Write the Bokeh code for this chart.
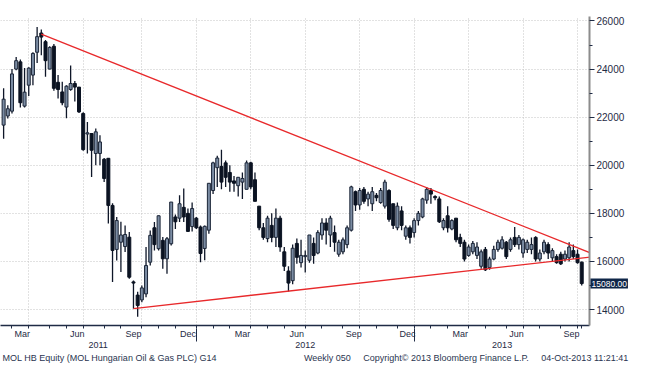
import pandas as pd
from bokeh.plotting import figure
from bokeh.models import Range1d, LinearAxis, FixedTicker, Grid, Label, ColumnDataSource, Title
from bokeh.embed import file_html
from bokeh.resources import INLINE

# ---------------- data (weekly bars, MOL HB Equity) ----------------
first_week = "2011-02-11"
opens = [21670, 22050, 22250, 24000, 24300, 22460, 23330, 23750, 24700, 25500,
         25140, 24000, 24950, 23450, 23050, 22420, 23150, 23400, 23250, 22150,
         21300, 21320, 20490, 20490, 20250, 20290, 18330, 16500, 16800, 16620,
         17010, 15150, 14600, 14400, 14650, 15970, 17400, 16530, 16875, 16110,
         16735, 17850, 17800, 18250, 18000, 17450, 17800, 17430, 16540, 17300,
         18950, 19900, 19950, 20100, 19700, 19350, 19150, 19300, 19000, 20100,
         19400, 18300, 17400, 16950, 17500, 17000, 17800, 16400, 15600, 15200,
         16750, 15950, 16200, 16050, 16750, 16350, 17100, 17600, 17100, 17200,
         16300, 16400, 16700, 17300, 18900, 18350, 19000, 18600, 18400, 18750,
         18450, 18300, 18950, 18400, 17400, 18100, 17050, 17400, 17200, 17700,
         17850, 18550, 18950, 18700, 18600, 17400, 17900, 17350, 17800, 17000,
         16800, 16250, 16400, 16250, 15800, 16500, 15750, 16100, 16500, 16550,
         16800, 16500, 17000, 16700, 16350, 16500, 16500, 17000, 16100, 16400,
         16700, 16150, 16200, 16300, 16100, 16150, 16450, 16300, 15970]
highs = [23200, 22500, 24000, 24500, 24400, 24050, 24080, 24700, 25750, 25650,
         25210, 24950, 25040, 23750, 23470, 23330, 24150, 23500, 23260, 22200,
         21800, 21320, 21530, 21250, 20300, 20290, 18420, 17850, 17650, 17500,
         17220, 15210, 14740, 15000, 16600, 17290, 17640, 17915, 17015, 17015,
         18470, 17950, 18750, 19030, 18200, 18450, 17850, 17500, 17500, 19250,
         20150, 20400, 20650, 20200, 20000, 19550, 19500, 19700, 20200, 20150,
         19700, 18300, 17600, 17900, 18000, 18200, 17900, 16600, 15800, 16700,
         16950, 16900, 16450, 17100, 17000, 17300, 17800, 17800, 17900, 17500,
         16900, 17000, 17500, 19150, 18950, 19050, 19100, 18900, 19100, 18850,
         19050, 19400, 19000, 18400, 18450, 18300, 17500, 17500, 17800, 18100,
         18650, 19100, 19050, 18750, 18700, 17800, 18300, 17750, 17800, 17150,
         16900, 16700, 16850, 16800, 16500, 16600, 16200, 16650, 16900, 17050,
         16850, 17000, 17430, 17100, 16950, 16900, 17000, 17050, 16500, 16900,
         16800, 16550, 16300, 16400, 16450, 16800, 16700, 16500, 16000]
lows = [21100, 21950, 22150, 23950, 22400, 22400, 22880, 23330, 24250, 24580,
        23680, 23990, 23100, 22780, 22500, 21960, 23100, 22650, 22170, 20600,
        20490, 19510, 20000, 20000, 19300, 17580, 15140, 16040, 15560, 16390,
        15280, 14030, 13700, 14300, 14510, 15830, 16460, 16460, 15700, 15485,
        16665, 17350, 17640, 17640, 17220, 17250, 17350, 15970, 16050, 17150,
        18800, 19100, 19000, 19100, 18900, 18900, 18700, 18600, 19000, 19000,
        18500, 17300, 16900, 16800, 16800, 16600, 16400, 15600, 14750, 15050,
        15900, 15750, 15540, 15950, 15900, 16300, 16900, 16700, 16600, 16400,
        16200, 16300, 16550, 17250, 18100, 18150, 18400, 18300, 18100, 18500,
        18400, 18200, 17650, 17350, 17300, 17300, 16900, 16750, 17000, 17500,
        17800, 18400, 18400, 18550, 17600, 17300, 17200, 17300, 16800, 16600,
        16000, 16200, 16300, 16100, 15700, 15600, 15650, 16050, 16400, 16500,
        16100, 16400, 16600, 16500, 16150, 16350, 16300, 16000, 16000, 16300,
        16100, 16000, 15900, 15850, 16000, 16000, 16100, 15900, 15000]
closes = [22750, 22350, 23800, 24350, 22600, 23040, 24040, 24650, 25350, 25330,
          24350, 24900, 23200, 23150, 22600, 23290, 23400, 23250, 22220, 20650,
          21350, 20625, 21390, 20970, 19450, 18330, 16460, 17700, 17100, 17120,
          15345, 15100, 14170, 14900, 15830, 17085, 16700, 17900, 16110, 16945,
          18470, 17650, 18400, 17850, 17250, 18200, 17400, 16330, 17460, 19250,
          20100, 20300, 19300, 19500, 19300, 19250, 19500, 19450, 20100, 19100,
          18500, 17400, 17000, 17800, 17000, 17800, 16600, 15800, 15100, 16550,
          16170, 16250, 16250, 17100, 16250, 17200, 17600, 17300, 17800, 16800,
          16800, 16900, 17400, 19100, 18350, 18950, 18500, 18800, 18900, 18650,
          18950, 19300, 17750, 17500, 18300, 17500, 17400, 17000, 17700, 18000,
          18600, 19000, 18800, 18650, 17650, 17700, 17400, 17700, 16900, 16750,
          16100, 16600, 16750, 16600, 16400, 15650, 16100, 16500, 16800, 16900,
          16200, 16900, 16700, 17000, 16900, 16800, 16700, 16100, 16350, 16800,
          16350, 16450, 15950, 15900, 16300, 16600, 16200, 15950, 15080]

price_ticks = [14000, 16000, 18000, 20000, 22000, 24000, 26000]
price_minor = [13000, 15000, 17000, 19000, 21000, 23000, 25000]
label_months = {3: "Mar", 6: "Jun", 9: "Sep", 12: "Dec"}
years = [2011, 2012, 2013]
last_price = 15080.00

trend_upper_dates = ["2011-04-15", "2013-11-01"]
trend_upper_vals = [25450, 16220]
trend_lower_dates = ["2011-09-16", "2013-11-01"]
trend_lower_vals = [14040, 16220]

footer_left = "MOL HB Equity (MOL Hungarian Oil & Gas PLC) G14"
footer_mid = "Weekly 050"
footer_copy = "Copyright\u00a9 2013 Bloomberg Finance L.P."
footer_date = "04-Oct-2013 11:21:41"

# ---------------- geometry helpers ----------------
base = pd.Timestamp("2011-01-01")
dates = pd.date_range(first_week, periods=len(closes), freq="7D")
xs = [float((d - base).days) for d in dates]
x_start, x_end = 35.8, 1020.0

def dx(s):
    return float((pd.Timestamp(s) - base).days)

up = dict(x=[], top=[], bottom=[])
dn = dict(x=[], top=[], bottom=[])
for x, o, c in zip(xs, opens, closes):
    d = up if c >= o else dn
    d["x"].append(x)
    d["top"].append(max(o, c))
    d["bottom"].append(min(o, c))

df = pd.DataFrame({"x": xs, "y": [d.year for d in dates], "m": [d.month for d in dates]})
grp = df.groupby(["y", "m"])["x"]
mid = grp.mean()
last = grp.max()
label_ticks, overrides = [], {}
for (yy, mm), v in mid.items():
    if mm in label_months:
        t = int(round(v))
        label_ticks.append(t)
        overrides[t] = label_months[mm]
month_minor = [float(v) for v in last.values]
quarter_grid = [float(v) for (yy, mm), v in last.items() if mm in (3, 6, 9, 12)]
year_seps = [float(v) for (yy, mm), v in last.items() if mm == 12]
bounds = [x_start] + year_seps + [x_end]
year_ticks, year_over = [], {}
for i, yv in enumerate(years):
    t = int(round((bounds[i] + bounds[i + 1]) / 2))
    year_ticks.append(t)
    year_over[t] = str(yv)

# ---------------- figure ----------------
NAVY = "#1f2b45"
p = figure(width=629, height=364, x_range=Range1d(x_start, x_end),
           y_range=Range1d(13336, 26187), x_axis_type=None, y_axis_type=None,
           toolbar_location=None, output_backend="svg",
           min_border_left=0, min_border_top=16, min_border_right=40, min_border_bottom=39,
           outline_line_color=None, background_fill_color="white", border_fill_color="white")

gstyle = dict(grid_line_color="#c4c4c4", grid_line_dash="1 2", grid_line_width=1)
p.add_layout(Grid(dimension=1, ticker=FixedTicker(ticks=price_ticks), **gstyle))
p.add_layout(Grid(dimension=0, ticker=FixedTicker(ticks=quarter_grid), **gstyle))

p.segment(x0=xs, y0=lows, x1=xs, y1=highs, line_color="#0e1628", line_width=1.3)
p.vbar(x="x", top="top", bottom="bottom", width=5.0, source=ColumnDataSource(up),
       fill_color="#7b8ca3", line_color="#1c2638", line_width=1)
p.vbar(x="x", top="top", bottom="bottom", width=5.0, source=ColumnDataSource(dn),
       fill_color="#0b1322", line_color="#0b1322", line_width=1)

p.line([dx(s) for s in trend_upper_dates], trend_upper_vals, line_color="#e8292b", line_width=1.3)
p.line([dx(s) for s in trend_lower_dates], trend_lower_vals, line_color="#e8292b", line_width=1.3)

yax = LinearAxis(ticker=FixedTicker(ticks=price_ticks, minor_ticks=price_minor),
                 axis_line_color="#8c8c8c", axis_line_width=2,
                 major_tick_in=0, major_tick_out=5, minor_tick_in=0, minor_tick_out=3,
                 major_tick_line_color=NAVY, minor_tick_line_color=NAVY,
                 major_label_standoff=2, major_label_text_font="Liberation Sans",
                 major_label_text_font_size="10px", major_label_text_color=NAVY)
p.add_layout(yax, "right")

xax = LinearAxis(ticker=FixedTicker(ticks=label_ticks, minor_ticks=month_minor),
                 axis_line_color=NAVY, axis_line_width=1.5,
                 major_tick_in=0, major_tick_out=0, major_tick_line_color=None,
                 minor_tick_in=0, minor_tick_out=3, minor_tick_line_color=NAVY,
                 major_label_overrides=overrides, major_label_standoff=0,
                 major_label_text_font="Liberation Sans", major_label_text_font_size="9px",
                 major_label_text_color=NAVY)
p.add_layout(xax, "below")

yrax = LinearAxis(ticker=FixedTicker(ticks=year_ticks, minor_ticks=year_seps),
                  axis_line_color=None, major_tick_line_color=None,
                  major_tick_in=0, major_tick_out=0,
                  minor_tick_in=13, minor_tick_out=0, minor_tick_line_color=NAVY,
                  major_label_overrides=year_over, major_label_standoff=0,
                  major_label_text_font="Liberation Sans", major_label_text_font_size="9px",
                  major_label_text_color=NAVY)
p.add_layout(yrax, "below")

NB = "\u00a0"
footer = footer_left + NB * 35 + footer_mid + NB * 5 + footer_copy + NB * 5 + footer_date
p.add_layout(Title(text=footer, align="left", text_font="Liberation Sans",
                   text_font_size="9px", text_font_style="normal", text_color="#2a3550",
                   standoff=0, offset=2), "below")

p.add_layout(Label(x=590, y=last_price, x_units="screen", y_units="data",
                   text=f"{last_price:.2f}", text_align="left", text_baseline="middle",
                   text_font="Liberation Sans", text_font_size="8.5px", text_color="white",
                   background_fill_color="#0f2648", padding=dict(x=1, y=2)), "above")

open("out.html", "w").write(file_html(p, INLINE))
